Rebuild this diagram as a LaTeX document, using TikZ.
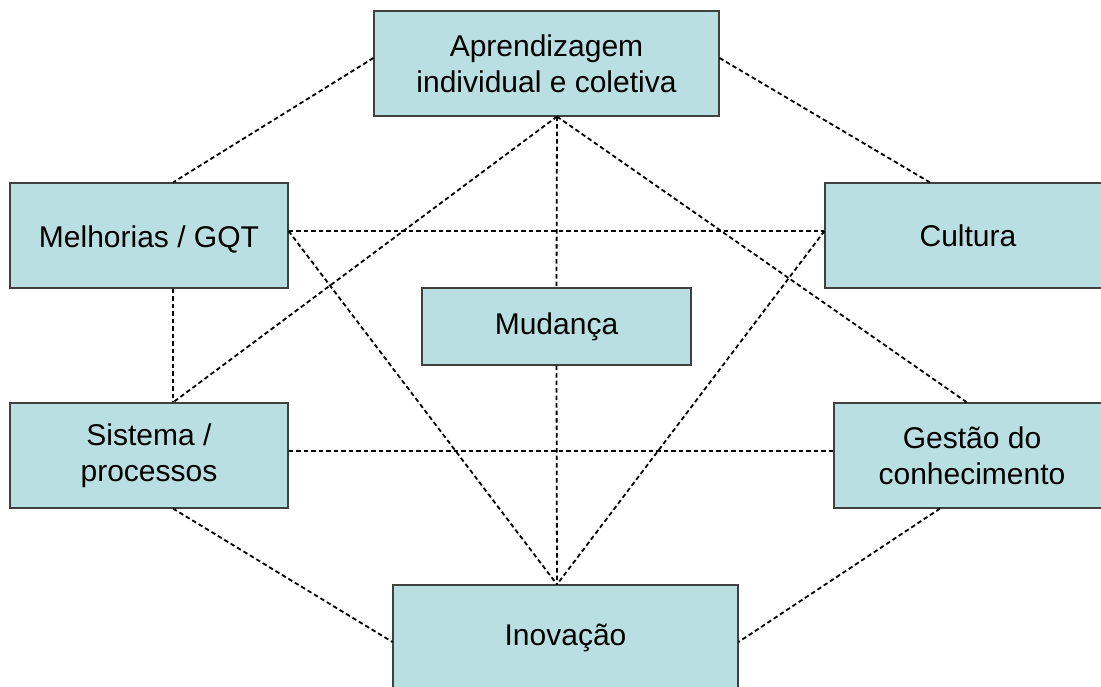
\documentclass[tikz,border=0pt]{standalone}
\usepackage{fontspec}
\setmainfont{Liberation Sans}
\definecolor{boxfill}{HTML}{BADFE3}
\definecolor{boxline}{HTML}{404040}
\begin{document}
\begin{tikzpicture}[x=1pt,y=-1pt,
  box/.style={draw=boxline, line width=1.1pt, fill=boxfill, inner sep=0pt,
    align=center, font=\fontsize{30}{36}\selectfont},
  link/.style={black, line width=1.8pt, dash pattern=on 4.5pt off 3pt}]
\useasboundingbox (0,0) rectangle (1101,687);
\clip (0,0) rectangle (1101,687);

% concept boxes
\node[box, minimum width=345pt, minimum height=105pt] (apr) at (546.5,63.5)
  {Aprendizagem\\individual e coletiva};
\node[box, minimum width=278pt, minimum height=105pt] (mel) at (149,235.5)
  {\raisebox{-4pt}[\height][\depth]{Melhorias / GQT}};
\node[box, minimum width=286pt, minimum height=105pt] (cul) at (968,235.5)
  {Cultura};
\node[box, minimum width=269pt, minimum height=77pt] (mud) at (556.5,326.5)
  {Mudança};
\node[box, minimum width=278pt, minimum height=105pt] (sis) at (149,455.5)
  {Sistema /\\processos};
\node[box, minimum width=276pt, minimum height=105pt] (ges) at (972,455.5)
  {Gestão do\\conhecimento};
\node[box, minimum width=345pt, minimum height=105pt] (ino) at (565.5,637.5)
  {Inovação};

% attachment points on the box borders
\coordinate (aprW) at (apr.west |- 0,58);
\coordinate (aprE) at (apr.east |- 0,58);
\coordinate (hub)  at (apr.south -| 557,0);
\coordinate (melN) at (mel.north -| 173,0);
\coordinate (melE) at (mel.east |- 0,231);
\coordinate (melS) at (mel.south -| 173,0);
\coordinate (culN) at (cul.north -| 930,0);
\coordinate (culW) at (cul.west |- 0,231);
\coordinate (sisN) at (sis.north -| 173,0);
\coordinate (sisE) at (sis.east |- 0,451);
\coordinate (sisS) at (sis.south -| 173,0);
\coordinate (gesN) at (ges.north -| 967,0);
\coordinate (gesW) at (ges.west |- 0,451);
\coordinate (gesS) at (ges.south -| 940,0);
\coordinate (inoN) at (ino.north -| 557,0);
\coordinate (inoW) at (ino.west |- 0,642);
\coordinate (inoE) at (ino.east |- 0,642);

% dashed relations
\draw[link] (aprW) -- (melN);
\draw[link] (aprE) -- (culN);
\draw[link] (hub) -- (mud.north);
\draw[link] (hub) -- (sisN);
\draw[link] (hub) -- (gesN);
\draw[link] (melE) -- (culW);
\draw[link] (melE) -- (inoN);
\draw[link] (culW) -- (inoN);
\draw[link] (melS) -- (sisN);
\draw[link] (sisE) -- (gesW);
\draw[link] (mud.south) -- (inoN);
\draw[link] (sisS) -- (inoW);
\draw[link] (gesS) -- (inoE);
\end{tikzpicture}
\end{document}
